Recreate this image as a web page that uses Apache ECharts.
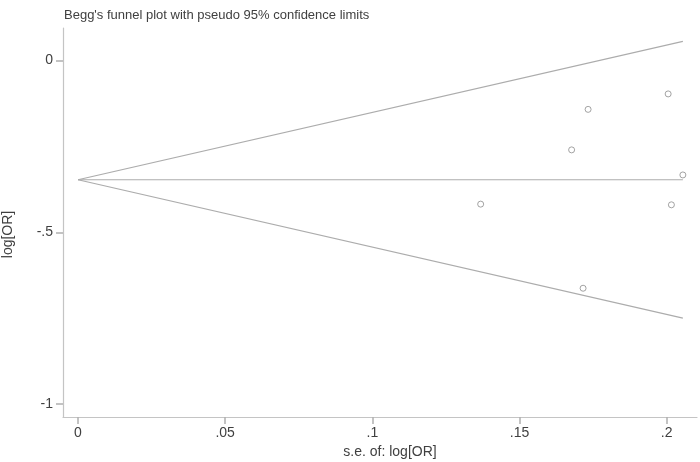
<!DOCTYPE html>
<html><head><meta charset="utf-8">
<script src="https://cdn.jsdelivr.net/npm/echarts@6/dist/echarts.min.js"></script>
<style>html,body{margin:0;padding:0;background:#fff}#c{width:700px;height:462px}</style>
</head><body><div id="c"></div>
<script>
const studySE = [0.2005, 0.1733, 0.1677, 0.2055, 0.1368, 0.2016, 0.1716];
const studyLogOR = [-0.097, -0.142, -0.260, -0.333, -0.418, -0.420, -0.663];
const limitSE = [0, 0.2055];
const pooled = [-0.347, -0.347];
const upperLimit = [-0.347, 0.056];
const lowerLimit = [-0.347, -0.750];
const xTicks = [0, 0.05, 0.1, 0.15, 0.2];
const yTicks = [-1, -0.5, 0];

const fmt = v => { if (Math.abs(v) < 1e-9) return '0'; let s = String(+v.toFixed(3)); return s.replace(/^(-?)0\./, '$1.'); };
const pairs = (xs, ys) => xs.map((x, i) => [x, ys[i]]);
const lineStyle = { color: '#acacac', width: 1.2 };
const axisCol = '#c4c4c4';
const tickCol = '#b0b0b0';
const textCol = '#404040';
const font = 'Liberation Sans, Arial, sans-serif';

const chart = echarts.init(document.getElementById('c'), null, { renderer: 'canvas' });
chart.setOption({
  animation: false,
  title: { text: "Begg's funnel plot with pseudo 95% confidence limits", left: 59, top: 4,
    textStyle: { fontSize: 13, fontWeight: 'normal', color: textCol, fontFamily: font } },
  grid: { left: 63, right: 3, top: 28, bottom: 45, containLabel: false, outerBoundsMode: 'none' },
  xAxis: {
    type: 'value', min: -0.0051, max: 0.2103,
    name: 's.e. of: log[OR]', nameLocation: 'middle', nameGap: 26,
    nameTextStyle: { fontSize: 14, color: textCol, fontFamily: font, padding: [0, 0, 0, 20] },
    axisLine: { show: true, onZero: false, lineStyle: { color: axisCol, width: 1.2 } },
    axisTick: { show: true, inside: false, length: 7, customValues: xTicks, lineStyle: { color: tickCol, width: 1.5 } },
    axisLabel: { customValues: xTicks, formatter: fmt, fontSize: 14, color: textCol, fontFamily: font, margin: 9 },
    splitLine: { show: false }
  },
  yAxis: {
    type: 'value', min: -1.038, max: 0.095,
    name: 'log[OR]', nameLocation: 'middle', nameGap: 48, nameRotate: 90,
    nameTextStyle: { fontSize: 14, color: textCol, fontFamily: font, padding: [0, 24, 0, 0] },
    axisLine: { show: true, onZero: false, lineStyle: { color: axisCol, width: 1.2 } },
    axisTick: { show: true, length: 7, customValues: yTicks, lineStyle: { color: tickCol, width: 1.5 } },
    axisLabel: { customValues: yTicks, formatter: fmt, fontSize: 14, color: textCol, fontFamily: font, margin: 10 },
    splitLine: { show: false }
  },
  series: [
    { type: 'line', data: pairs(limitSE, upperLimit), symbol: 'none', lineStyle, silent: true },
    { type: 'line', data: pairs(limitSE, pooled), symbol: 'none', lineStyle, silent: true },
    { type: 'line', data: pairs(limitSE, lowerLimit), symbol: 'none', lineStyle, silent: true },
    { type: 'scatter', data: pairs(studySE, studyLogOR), symbol: 'circle', symbolSize: 6,
      itemStyle: { color: '#fff', borderColor: '#8c8c8c', borderWidth: 1 } }
  ]
});
</script></body></html>
